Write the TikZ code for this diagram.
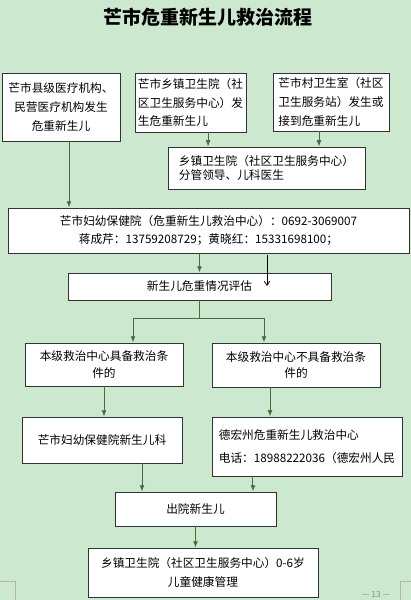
\documentclass[tikz,border=0pt]{standalone}
\usepackage{fontspec}
\setmainfont{Noto Sans CJK SC}
\usetikzlibrary{arrows.meta}

\definecolor{bg}{RGB}{204,232,207}
\definecolor{arrgreen}{RGB}{72,108,60}

\begin{document}
\begin{tikzpicture}[x=0.025cm,y=-0.025cm,
  box/.style={draw=black!80,fill=white,line width=0.6pt,inner sep=2pt,font=\fontsize{8.3}{13.5}\selectfont},
  arr/.style={draw=arrgreen,line width=0.7pt,-{Latex[length=4.5pt,width=3.5pt]}},
  ln/.style={draw=arrgreen,line width=0.7pt}]
\useasboundingbox (0,0) rectangle (411,600);
\fill[bg] (0,0) rectangle (411,600);
\node[font=\fontsize{13.5}{16}\selectfont\bfseries] (T) at (208,17) {芒市危重新生儿救治流程};

\node[box,align=center,minimum width=2.95cm,minimum height=1.7cm] (A) at (61,107) {芒市县级医疗机构、\\民营医疗机构发生\\危重新生儿};
\node[box,align=left,minimum width=2.775cm,minimum height=1.475cm] (B) at (190.5,102.5) {芒市乡镇卫生院（社\\区卫生服务中心）发\\生危重新生儿};
\node[box,align=left,minimum width=2.9cm,minimum height=1.45cm] (C) at (331,102) {芒市村卫生室（社区\\卫生服务站）发生或\\接到危重新生儿};
\node[box,align=left,minimum width=4.925cm,minimum height=1.05cm,font=\fontsize{8.3}{10.6}\selectfont] (D) at (266.5,168) {乡镇卫生院（社区卫生服务中心）\\分管领导、儿科医生};
\node[box,align=center,minimum width=10.025cm,minimum height=1.125cm,font=\fontsize{8.3}{12.8}\selectfont] (E) at (208.5,230.5) {芒市妇幼保健院（危重新生儿救治中心）：0692-3069007\\蒋成芹：13759208729；黄晓红：15331698100；};
\node[box,minimum width=6.575cm,minimum height=0.675cm] (F) at (199.5,286.5) {新生儿危重情况评估};
\node[box,align=center,minimum width=3.95cm,minimum height=1.075cm,font=\fontsize{8.3}{12}\selectfont] (G) at (104,364.5) {本级救治中心具备救治条\\件的};
\node[box,align=center,minimum width=4.2cm,minimum height=1.1cm,font=\fontsize{8.3}{12}\selectfont] (H) at (296,365) {本级救治中心不具备救治条\\件的};
\node[box,minimum width=4cm,minimum height=1.15cm] (I) at (102,440) {芒市妇幼保健院新生儿科};
\node[box,align=left,minimum width=4.75cm,minimum height=1.475cm,font=\fontsize{8.3}{16.3}\selectfont] (J) at (307,446.5) {德宏州危重新生儿救治中心\\电话：18988222036（德宏州人民};
\node[box,minimum width=4.025cm,minimum height=0.85cm] (K) at (195.5,509) {出院新生儿};
\node[box,align=center,minimum width=5.75cm,minimum height=1.225cm] (L) at (203,572.5) {乡镇卫生院（社区卫生服务中心）0-6岁\\儿童健康管理};

\draw[arr] ([xshift=0.2cm]A.south) -- ([xshift=0.2cm]A.south |- E.north);
\draw[arr] ([xshift=0.44cm]B.south) -- ([xshift=0.44cm]B.south |- D.north);
\draw[arr] ([xshift=-0.3cm]C.south) -- ([xshift=-0.3cm]C.south |- D.north);
\draw[arr] (F.north |- E.south) -- (F.north);
\coordinate (split) at ([yshift=-0.45cm]F.south);
\draw[ln] (F.south) -- (split);
\draw[arr] (split) -| ([xshift=0.725cm]G.north);
\draw[arr] (split) -| ([xshift=-0.8cm]H.north);
\draw[arr] (G.south) -- (G.south |- I.north);
\draw[arr] ([xshift=-0.65cm]H.south) -- ([xshift=-0.65cm]H.south |- J.north);
\draw[arr] ([xshift=1cm]I.south) -- ([xshift=1cm]I.south |- K.north);
\draw[arr] ([xshift=-1.35cm]J.south) -- ([xshift=-1.35cm]J.south |- K.north);
\draw[arr] (K.south) -- (K.south |- L.north);

\coordinate (s) at (267,255);
\draw[black,line width=0.5pt,-{Straight Barb[length=3pt,width=4pt]}] (s) -- ++(0,31);

\draw[black!30,line width=0.4pt] (0,581) -- (15.5,581) -- (15.5,600);
\draw[black!30,line width=0.4pt] (411,581) -- (400,581) -- (400,600);
\node[text=black!45,font=\fontsize{6}{7}\selectfont,anchor=south,inner sep=1pt] (pg) at (376,599) {— 13 —};
\end{tikzpicture}
\end{document}
